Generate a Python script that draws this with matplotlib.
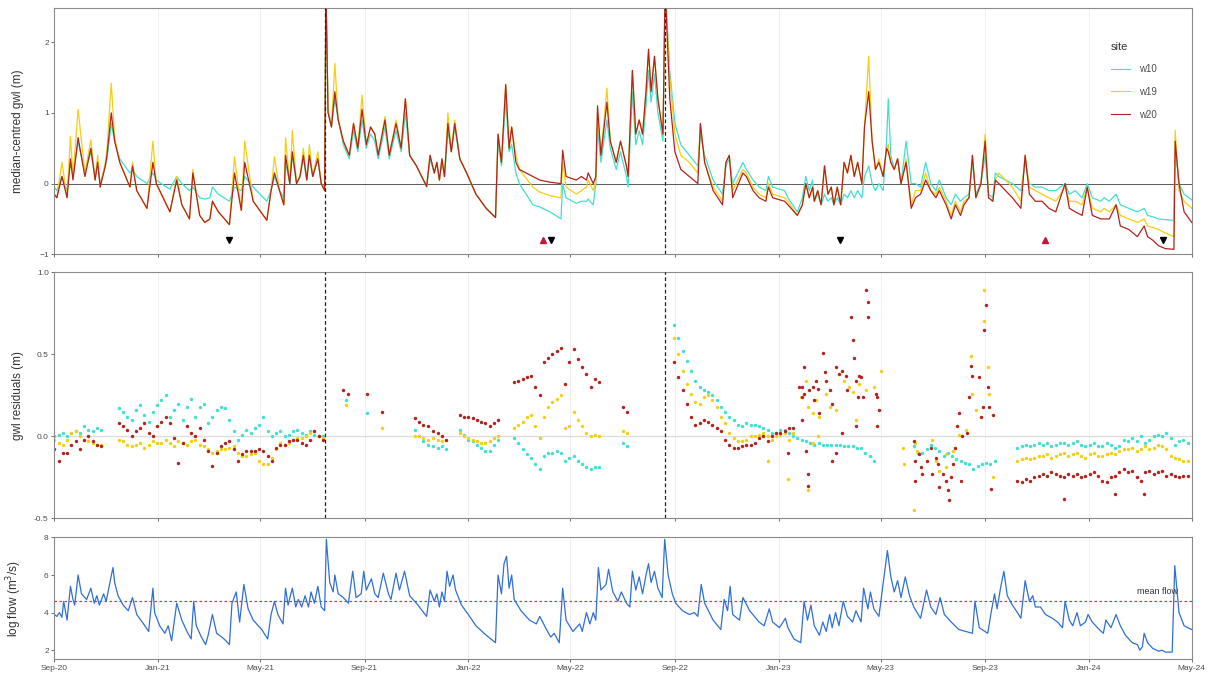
import numpy as np
import pandas as pd
import matplotlib
matplotlib.use("Agg")
import matplotlib.pyplot as plt
import matplotlib.dates as mdates
from matplotlib.lines import Line2D

plt.rcParams['font.family'] = ['Liberation Sans', 'DejaVu Sans']

# all times are days since 1 Sep 2020
START = pd.Timestamp("2020-09-01")
END = pd.Timestamp("2024-05-01")

# -------------------------------
# median-centred groundwater level (m), knots of the daily series
# -------------------------------
gwl_day = [
    0, 3, 9, 15, 19, 22, 28, 36, 43, 48,
    51, 54, 60, 62, 67, 71, 77, 89, 92, 97,
    109, 116, 120, 132, 136, 144, 150, 159, 163, 171,
    177, 183, 186, 193, 206, 212, 220, 224, 234, 250,
    255, 259, 265, 270, 272, 277, 280, 285, 289, 293,
    297, 300, 304, 310, 314, 318, 319.5, 322, 326, 330,
    334, 340, 347, 352, 357, 362, 367, 372, 377, 381,
    389, 394, 402, 408, 413, 418, 426, 438, 442, 447,
    450, 453, 456, 459, 463, 467, 471, 477, 485, 496,
    508, 519, 522, 526, 531, 535, 538, 543, 547, 563,
    571, 583, 596, 598, 602, 614, 620, 626, 628, 634,
    637, 639, 643, 650, 654, 661, 666, 673, 675, 680,
    684, 688, 692, 696, 699, 702, 706, 710, 716, 718.5,
    724, 730, 737, 747, 757, 760, 765, 775, 786, 790,
    794, 798, 810, 814, 822, 829, 837, 840, 845, 859,
    863, 874, 880, 884, 888, 892, 894, 898, 902, 906,
    910, 914, 917, 921, 925, 929, 933, 937, 941, 945,
    950, 953, 958, 962, 966, 970, 975, 979, 981, 984,
    988, 992, 996, 1002, 1008, 1013, 1019, 1025, 1031, 1037,
    1041, 1049, 1055, 1060, 1066, 1070, 1076, 1080, 1084, 1090,
    1095, 1099, 1104, 1107, 1111, 1119, 1127, 1137, 1142, 1147,
    1154, 1162, 1170, 1178, 1189, 1194, 1201, 1209, 1215, 1221,
    1231, 1235, 1241, 1249, 1254, 1264, 1274, 1282, 1286, 1292,
    1299, 1307, 1317, 1318.5, 1323, 1329, 1338,
]
gwl_w10 = [
    -0.05, -0.1, 0.1, -0.1, 0.3, 0.1, 0.6, 0.15, 0.45, 0.1,
    0.3, 0.0, 0.25, 0.35, 0.85, 0.6, 0.35, 0.15, 0.2, 0.1,
    0.0, 0.15, 0.05, -0.05, -0.08, 0.1, 0.0, -0.1, -0.05, -0.2,
    -0.22, -0.2, -0.05, -0.15, -0.25, -0.05, -0.1, 0.1, -0.05, -0.25,
    -0.1, 0.1, -0.1, -0.2, 0.3, 0.0, 0.4, 0.0, 0.1, 0.35,
    0.05, 0.4, 0.1, 0.35, 0.0, -0.05, 2.8, 1.05, 0.8, 1.2,
    0.9, 0.55, 0.35, 0.75, 0.45, 0.9, 0.5, 0.7, 0.6, 0.35,
    0.8, 0.35, 0.75, 0.45, 1.0, 0.4, 0.25, -0.05, 0.35, 0.15,
    0.3, 0.05, 0.3, 0.1, 0.75, 0.45, 0.8, 0.35, 0.15, -0.15,
    -0.35, -0.48, 0.6, 0.25, 1.2, 0.45, 0.55, 0.15, 0.0, -0.3,
    -0.33, -0.4, -0.5, 0.0, -0.2, -0.28, -0.25, -0.25, -0.22, -0.3,
    0.0, 0.8, 0.3, 0.9, 0.5, 0.2, 0.45, 0.1, -0.05, 1.3,
    0.55, 0.75, 0.55, 1.1, 1.6, 1.15, 1.55, 1.0, 0.6, 2.8,
    1.6, 0.85, 0.55, 0.4, 0.25, 0.7, 0.4, 0.05, -0.15, 0.25,
    0.35, 0.0, 0.3, 0.2, 0.05, -0.05, -0.1, 0.1, -0.05, -0.1,
    -0.2, -0.4, -0.2, 0.1, -0.1, 0.05, -0.25, -0.15, -0.3, -0.15,
    -0.25, -0.2, -0.3, -0.2, -0.3, -0.15, -0.2, -0.1, -0.2, -0.1,
    -0.2, 0.1, 0.25, 0.0, -0.1, 0.0, -0.1, 0.6, 1.2, 0.4,
    0.2, 0.35, 0.0, 0.6, 0.0, 0.0, -0.05, 0.3, 0.0, -0.1,
    0.05, -0.2, -0.3, -0.15, -0.25, -0.2, -0.15, 0.3, -0.15, 0.0,
    0.4, -0.15, -0.2, 0.15, 0.1, 0.05, 0.0, -0.1, 0.3, 0.0,
    -0.05, -0.05, -0.1, -0.1, 0.0, -0.15, -0.1, -0.2, 0.0, -0.2,
    -0.25, -0.2, -0.25, -0.15, -0.3, -0.35, -0.4, -0.35, -0.45, -0.47,
    -0.5, -0.51, -0.52, 0.5, 0.0, -0.15, -0.23,
]
gwl_w19 = [
    -0.15, -0.2, 0.3, -0.2, 0.67, 0.1, 1.05, 0.15, 0.62, 0.05,
    0.4, -0.05, 0.3, 0.5, 1.42, 0.65, 0.3, -0.05, 0.3, -0.1,
    -0.35, 0.6, 0.0, -0.3, -0.4, 0.1, -0.3, -0.5, 0.2, -0.45,
    -0.55, -0.5, -0.25, -0.4, -0.58, 0.38, -0.38, 0.6, -0.25, -0.52,
    -0.1, 0.38, -0.1, -0.3, 0.65, 0.0, 0.75, 0.0, 0.1, 0.5,
    0.05, 0.55, 0.1, 0.45, 0.0, -0.1, 2.8, 1.05, 0.8, 1.7,
    0.9, 0.6, 0.4, 0.85, 0.5, 1.25, 0.55, 0.8, 0.7, 0.4,
    0.95, 0.4, 0.9, 0.5, 1.2, 0.4, 0.25, -0.04, 0.4, 0.15,
    0.3, 0.05, 0.35, 0.1, 1.0, 0.45, 0.9, 0.35, 0.15, -0.15,
    -0.35, -0.48, 0.7, 0.3, 1.4, 0.5, 0.8, 0.4, 0.2, -0.05,
    -0.12, -0.17, -0.2, 0.3, -0.05, -0.15, -0.1, -0.05, 0.05, -0.1,
    0.05, 1.0, 0.4, 1.35, 0.6, 0.3, 0.6, 0.25, 0.1, 1.6,
    0.7, 0.9, 0.7, 1.3, 1.85, 1.3, 1.8, 1.2, 0.7, 2.8,
    1.5, 0.7, 0.4, 0.3, 0.15, 0.85, 0.3, -0.05, -0.25, 0.3,
    0.4, -0.1, 0.2, 0.15, -0.05, -0.15, -0.2, 0.0, -0.15, -0.2,
    -0.25, -0.45, -0.3, 0.0, -0.2, -0.05, -0.25, -0.1, -0.3, 0.25,
    -0.15, -0.05, -0.3, -0.05, -0.3, 0.3, 0.15, 0.4, 0.1, 0.3,
    0.0, 0.8, 1.8, 0.6, 0.2, 0.35, 0.1, 0.5, 0.55, 0.3,
    0.2, 0.35, 0.0, 0.35, -0.3, -0.1, -0.1, 0.15, -0.1, -0.15,
    -0.05, -0.25, -0.45, -0.25, -0.4, -0.25, -0.2, 0.4, -0.2, 0.0,
    0.7, -0.2, -0.25, 0.05, 0.15, 0.05, -0.05, -0.25, 0.4, -0.05,
    -0.1, -0.15, -0.2, -0.25, -0.05, -0.25, -0.25, -0.3, -0.05, -0.35,
    -0.4, -0.35, -0.4, -0.3, -0.45, -0.5, -0.55, -0.5, -0.6, -0.62,
    -0.65, -0.7, -0.75, 0.75, -0.1, -0.25, -0.35,
]
gwl_w20 = [
    -0.15, -0.2, 0.1, -0.2, 0.35, 0.05, 0.65, 0.1, 0.5, 0.05,
    0.3, -0.05, 0.25, 0.4, 1.0, 0.6, 0.3, -0.05, 0.25, -0.1,
    -0.35, 0.3, 0.0, -0.3, -0.4, 0.05, -0.3, -0.5, 0.15, -0.45,
    -0.55, -0.5, -0.25, -0.4, -0.58, 0.15, -0.38, 0.3, -0.25, -0.52,
    -0.1, 0.15, -0.1, -0.3, 0.4, 0.0, 0.45, 0.0, 0.1, 0.4,
    0.05, 0.4, 0.1, 0.35, 0.0, -0.1, 2.8, 1.0, 0.8, 1.3,
    0.9, 0.6, 0.4, 0.85, 0.5, 1.05, 0.55, 0.8, 0.7, 0.4,
    0.9, 0.4, 0.85, 0.5, 1.2, 0.4, 0.25, -0.04, 0.4, 0.15,
    0.3, 0.05, 0.35, 0.1, 0.85, 0.45, 0.85, 0.35, 0.15, -0.15,
    -0.35, -0.48, 0.7, 0.3, 1.4, 0.5, 0.8, 0.3, 0.2, 0.1,
    0.05, 0.02, 0.0, 0.47, 0.1, 0.05, 0.1, 0.05, 0.15, 0.0,
    0.1, 1.1, 0.4, 1.15, 0.6, 0.3, 0.6, 0.25, 0.1, 1.6,
    0.7, 0.9, 0.7, 1.3, 1.9, 1.3, 1.8, 1.2, 0.7, 2.8,
    1.2, 0.45, 0.2, 0.1, 0.0, 0.85, 0.3, -0.1, -0.3, 0.3,
    0.4, -0.2, 0.15, 0.1, -0.1, -0.2, -0.25, -0.05, -0.2, -0.25,
    -0.3, -0.45, -0.3, 0.0, -0.2, -0.05, -0.25, -0.1, -0.3, 0.25,
    -0.15, -0.05, -0.3, -0.05, -0.3, 0.3, 0.15, 0.4, 0.1, 0.3,
    0.0, 0.8, 1.3, 0.6, 0.2, 0.3, 0.1, 0.5, 0.45, 0.3,
    0.2, 0.35, 0.0, 0.3, -0.35, -0.2, -0.15, 0.05, -0.1, -0.2,
    -0.1, -0.3, -0.5, -0.3, -0.45, -0.3, -0.2, 0.4, -0.2, 0.0,
    0.6, -0.2, -0.25, 0.05, 0.0, -0.1, -0.2, -0.35, 0.4, -0.15,
    -0.25, -0.25, -0.35, -0.4, 0.0, -0.35, -0.4, -0.45, -0.05, -0.45,
    -0.5, -0.5, -0.5, -0.3, -0.6, -0.65, -0.75, -0.6, -0.75, -0.8,
    -0.88, -0.92, -0.93, 0.6, 0.0, -0.4, -0.55,
]

# event markers along the bottom of the gwl panel
event_down_day = [206, 584, 924, 1304]
event_up_day = [575, 1165]
event_level = -0.8

# -------------------------------
# gwl residuals (m): (first day, values every 5 days)
# -------------------------------
res_w10 = [
    (0, [0.0, 0.01, 0.02, 0.0, 0.02, 0.03, 0.02, 0.06, 0.04, 0.03, 0.05, 0.04]),
    (76, [0.17, 0.15, 0.12, 0.10, 0.16, 0.19, 0.13, 0.09, 0.15, 0.19,
          0.22, 0.25, 0.12, 0.16, 0.20, 0.10, 0.18, 0.23, 0.12, 0.18,
          0.20, 0.08, 0.12, 0.16, 0.18, 0.17, 0.10, 0.03, -0.02, 0.01,
          0.04, 0.02, 0.05, 0.07, 0.12, 0.03, 0.0, 0.02, 0.03, 0.0,
          0.01, 0.03, 0.04, 0.02, 0.01, 0.03, 0.01, 0.0, 0.0]),
    (343, [0.22]),
    (368, [0.14]),
    (424, [0.04, 0.0, -0.03, -0.05]),
    (446, [-0.06, -0.07, -0.06, -0.08]),
    (477, [0.04, 0.01, -0.02, -0.03, -0.05, -0.07, -0.09, -0.09, -0.05, -0.02]),
    (541, [-0.01, -0.04, -0.08, -0.11, -0.13, -0.17, -0.2, -0.12, -0.10, -0.10,
           -0.09, -0.10, -0.15, -0.13, -0.12, -0.15, -0.17, -0.19, -0.20, -0.19,
           -0.19]),
    (669, [-0.04, -0.06]),
    (729, [0.68, 0.6, 0.52, 0.46, 0.4, 0.34, 0.3, 0.28, 0.27, 0.25,
           0.22, 0.18, 0.15, 0.12, 0.1, 0.07, 0.06, 0.08, 0.07, 0.07,
           0.06, 0.05, 0.04, 0.02, 0.02, 0.04, 0.04, 0.02, 0.0, -0.01,
           -0.02, -0.03, -0.04, -0.05, -0.04, -0.05, -0.05, -0.05, -0.05, -0.05,
           -0.06, -0.06, -0.06, -0.07, -0.07, -0.1, -0.12, -0.15]),
    (1011, [-0.06, -0.1, -0.1, -0.08, -0.05, -0.07, -0.09, -0.12, -0.1, -0.12,
            -0.14, -0.15, -0.16, -0.17, -0.2, -0.18, -0.17, -0.16, -0.17, -0.15]),
    (1133, [-0.07, -0.06, -0.05, -0.06, -0.05, -0.04, -0.05, -0.04, -0.06, -0.05,
            -0.04, -0.04, -0.05, -0.04, -0.03, -0.05, -0.06, -0.05, -0.04, -0.06,
            -0.06, -0.04, -0.05, -0.07, -0.06, -0.02, -0.03, -0.01, -0.03, 0.0,
            -0.04, -0.02, 0.0, 0.01, 0.0, 0.02, -0.01, -0.05, -0.03, -0.02,
            -0.04]),
]
res_w19 = [
    (0, [-0.02, -0.04, -0.05, -0.02, 0.02, 0.03, 0.0, -0.02, -0.03, -0.04, -0.05, -0.05]),
    (76, [-0.02, -0.03, -0.05, -0.06, -0.05, -0.04, -0.07, -0.05, -0.03, -0.04,
          -0.04, -0.02, -0.04, -0.06, -0.03, -0.04, -0.05, -0.03, -0.02, -0.05,
          -0.06, -0.08, -0.10, -0.09, -0.08, -0.08, -0.07, -0.06, -0.10, -0.12,
          -0.12, -0.11, -0.10, -0.15, -0.17, -0.17, -0.13, -0.08, -0.04, -0.05,
          -0.04, -0.02, -0.01, -0.01, 0.0, 0.02, 0.03, 0.0, -0.01]),
    (343, [0.19]),
    (385, [0.05]),
    (424, [0.0, 0.0, -0.01, -0.02]),
    (446, [-0.01, -0.02, -0.03, -0.02]),
    (477, [0.02, 0.0, -0.01, -0.02, -0.03, -0.04, -0.04, -0.03, -0.01, 0.0]),
    (541, [0.05, 0.07, 0.09, 0.12, 0.13, 0.06, -0.01, 0.12, 0.18, 0.21,
           0.23, 0.25, 0.05, 0.06, 0.15, 0.10, 0.06, 0.02, 0.0, 0.01,
           0.0]),
    (669, [0.03, 0.02]),
    (729, [0.6, 0.5, 0.4, 0.32, 0.26, 0.21, 0.2, 0.24, 0.25, 0.22,
           0.18, 0.12, 0.08, 0.02, -0.01, -0.03, -0.03, -0.02, 0.0, 0.0,
           0.01, 0.02, 0.0, -0.02, 0.0, 0.01, 0.02, -0.02, 0.02]),
    (1133, [-0.15, -0.14, -0.13, -0.14, -0.13, -0.12, -0.12, -0.11, -0.13, -0.12,
            -0.11, -0.10, -0.12, -0.11, -0.10, -0.12, -0.13, -0.11, -0.10, -0.12,
            -0.12, -0.11, -0.10, -0.11, -0.09, -0.08, -0.08, -0.07, -0.09, -0.08,
            -0.06, -0.08, -0.07, -0.05, -0.06, -0.08, -0.12, -0.13, -0.14, -0.15,
            -0.15]),
]
res_w20 = [
    (0, [-0.08, -0.15, -0.1, -0.1, -0.05, -0.03, -0.08, -0.02, 0.0, -0.03, -0.05, -0.06]),
    (76, [0.08, 0.06, 0.04, 0.0, 0.03, 0.05, 0.08, 0.02, 0.0, 0.06,
          0.09, 0.12, 0.08, -0.01, -0.16, -0.04, 0.06, 0.02, 0.0, 0.05,
          -0.02, -0.09, -0.18, -0.1, -0.06, -0.04, -0.03, -0.08, -0.15, -0.11,
          -0.09, -0.09, -0.09, -0.08, -0.09, -0.12, -0.15, -0.07, -0.05, -0.05,
          -0.03, -0.02, -0.02, -0.04, -0.05, -0.02, 0.03, 0.0, -0.02]),
    (340, [0.28, 0.26]),
    (368, [0.26]),
    (385, [0.15]),
    (424, [0.11, 0.09, 0.07, 0.06]),
    (446, [0.03, 0.02, 0.0, -0.02]),
    (477, [0.13, 0.12, 0.12, 0.11, 0.10, 0.09, 0.08, 0.06, 0.08, 0.10]),
    (541, [0.33, 0.34, 0.35, 0.36, 0.37, 0.30, 0.25, 0.45, 0.48, 0.50,
           0.52, 0.54, 0.32, 0.45, 0.53, 0.47, 0.42, 0.38, 0.30, 0.35,
           0.33]),
    (669, [0.18, 0.15]),
    (729, [0.45, 0.36, 0.28, 0.2, 0.12, 0.07, 0.08, 0.1, 0.09, 0.07,
           0.05, 0.03, -0.02, -0.05, -0.07, -0.07, -0.06, -0.05, -0.05, -0.04,
           -0.01, 0.0, -0.03, 0.0, 0.02, 0.02, 0.03, 0.05, 0.05]),
    (1133, [-0.27, -0.28, -0.26, -0.27, -0.25, -0.24, -0.23, -0.24, -0.22, -0.23,
            -0.24, -0.25, -0.23, -0.24, -0.23, -0.25, -0.24, -0.23, -0.22, -0.24,
            -0.27, -0.28, -0.25, -0.24, -0.22, -0.20, -0.22, -0.21, -0.25, -0.27,
            -0.22, -0.21, -0.23, -0.22, -0.21, -0.24, -0.23, -0.24, -0.25, -0.24,
            -0.24]),
]

# scattered residuals during the 2023 wet spells
scat_w19_day = [839, 863, 878, 884, 886, 886, 892, 892, 896, 898,
                900, 908, 912, 919, 929, 935, 939, 943, 947, 955,
                964, 972, 998, 1000, 1011, 1013, 1015, 1033, 1037, 1041,
                1049, 1049, 1057, 1064, 1072, 1078, 1080, 1084, 1094, 1094,
                1098, 1100, 1104]
scat_w19 = [-0.15, -0.26, 0.24, 0.34, 0.18, -0.33, 0.14, -0.04, 0.22, 0.0,
            0.12, 0.26, 0.18, 0.16, 0.34, 0.30, 0.27, 0.10, 0.32, 0.28,
            0.30, 0.40, -0.07, -0.17, -0.45, -0.04, -0.09, -0.02, -0.15, -0.21,
            -0.19, -0.11, -0.09, 0.01, 0.04, 0.49, 0.26, 0.16, 0.70, 0.89,
            0.42, 0.26, -0.25]
scat_w20_day = [863, 876, 880, 880, 880, 882, 882, 884, 886, 886,
                888, 892, 894, 896, 898, 900, 904, 906, 908, 912,
                915, 915, 919, 919, 923, 927, 927, 931, 933, 937,
                939, 941, 943, 943, 945, 947, 949, 951, 955, 957,
                957, 966, 968, 968, 970, 1011, 1013, 1013, 1017, 1019,
                1021, 1027, 1031, 1033, 1037, 1039, 1041, 1045, 1049, 1051,
                1053, 1055, 1057, 1060, 1062, 1064, 1066, 1068, 1074, 1076,
                1078, 1080, 1088, 1090, 1092, 1094, 1096, 1098, 1100, 1102,
                1104, 1188, 1248, 1282]
scat_w20 = [-0.1, 0.30, 0.1, 0.30, 0.24, 0.42, 0.26, -0.09, -0.23, -0.3,
            0.28, 0.30, 0.22, 0.34, 0.29, 0.14, 0.51, 0.39, 0.34, 0.28,
            0.20, -0.15, 0.42, -0.1, 0.38, 0.40, 0.02, 0.37, 0.28, 0.73,
            0.59, 0.48, 0.34, 0.06, 0.24, 0.37, 0.36, 0.24, 0.89, 0.82,
            0.73, 0.26, 0.24, 0.06, 0.16, -0.03, -0.15, -0.27, -0.11, -0.19,
            -0.23, -0.15, -0.07, -0.23, -0.13, -0.17, -0.31, -0.23, -0.27, -0.33,
            -0.39, -0.25, -0.17, -0.07, 0.06, 0.14, -0.27, 0.0, 0.02, 0.24,
            0.43, 0.37, 0.36, 0.12, 0.18, 0.65, 0.80, 0.30, 0.18, -0.32,
            0.13, -0.38, -0.35, -0.35]

# -------------------------------
# log flow (m3/s)
# -------------------------------
flow_day = [
    0, 3, 6, 9, 11, 15, 19, 22, 24, 28,
    32, 38, 43, 47, 50, 53, 58, 61, 65, 69,
    71, 75, 81, 87, 92, 97, 105, 111, 116, 118,
    124, 130, 134, 138, 144, 150, 156, 161, 164, 167,
    173, 178, 181, 186, 191, 197, 202, 206, 209, 214,
    218, 223, 228, 234, 244, 251, 255, 259, 263, 269,
    272, 275, 280, 284, 287, 291, 295, 299, 302, 306,
    310, 314, 318, 320, 324, 328, 330, 334, 340, 346,
    351, 355, 361, 364, 367, 373, 377, 381, 387, 393,
    396, 402, 406, 412, 418, 426, 438, 442, 447, 450,
    453, 456, 459, 462, 465, 469, 472, 479, 487, 496,
    508, 519, 522, 526, 529, 532, 535, 538, 541, 549,
    559, 567, 571, 579, 584, 588, 594, 598, 602, 610,
    618, 621, 626, 630, 634, 637, 640, 643, 649, 652,
    657, 663, 667, 673, 677, 680, 684, 688, 692, 696,
    699, 702, 706, 710, 715, 718, 722, 727, 731, 739,
    747, 753, 757, 761, 765, 775, 784, 788, 792, 795,
    798, 806, 810, 818, 829, 835, 841, 845, 853, 860,
    863, 870, 878, 882, 886, 890, 894, 900, 904, 908,
    912, 915, 919, 923, 928, 933, 939, 943, 949, 952,
    957, 960, 964, 970, 974, 980, 984, 988, 992, 996,
    1001, 1006, 1011, 1019, 1026, 1031, 1037, 1042, 1047, 1055,
    1064, 1072, 1080, 1083, 1088, 1098, 1102, 1106, 1109, 1113,
    1117, 1121, 1127, 1133, 1137, 1142, 1147, 1151, 1154, 1160,
    1166, 1174, 1180, 1186, 1189, 1194, 1198, 1203, 1207, 1213,
    1216, 1221, 1227, 1234, 1237, 1243, 1249, 1254, 1260, 1268,
    1274, 1277, 1280, 1282, 1286, 1292, 1299, 1303, 1307, 1315,
    1318, 1323, 1329, 1338,
]
flow_logq = [
    3.9, 3.8, 4.0, 3.75, 4.6, 3.6, 5.4, 4.7, 4.4, 6.0,
    5.0, 4.7, 5.3, 4.5, 4.9, 4.4, 5.0, 4.6, 5.5, 6.4,
    5.6, 4.9, 4.4, 4.1, 4.8, 3.9, 3.4, 3.0, 5.3, 4.0,
    3.3, 2.9, 3.3, 2.5, 4.5, 3.6, 3.0, 2.6, 4.6, 3.3,
    2.7, 2.3, 2.8, 3.9, 2.9, 2.7, 2.5, 2.3, 4.5, 5.1,
    3.5, 5.5, 4.2, 3.6, 3.1, 2.6, 3.9, 4.6, 3.9, 3.4,
    5.3, 4.4, 5.3, 4.3, 4.7, 4.3, 4.9, 4.3, 5.1, 4.5,
    5.4, 4.3, 4.1, 7.9, 5.6, 5.1, 6.0, 5.0, 4.8, 4.5,
    6.2, 4.8, 5.0, 6.2, 5.2, 5.8, 5.0, 4.8, 6.1, 5.0,
    4.7, 6.1, 5.2, 6.2, 4.9, 4.5, 3.8, 5.2, 4.6, 5.0,
    4.3, 5.1, 4.6, 6.2, 5.4, 6.0, 5.2, 4.4, 3.9, 3.3,
    2.8, 2.4, 6.0, 5.0, 6.6, 7.0, 5.3, 6.0, 4.7, 4.1,
    3.6, 3.4, 3.8, 3.1, 2.7, 2.9, 2.4, 5.3, 3.6, 3.0,
    3.4, 3.0, 4.0, 3.4, 4.0, 3.6, 6.4, 5.2, 5.5, 6.3,
    5.1, 4.6, 5.1, 4.5, 4.3, 6.2, 5.2, 5.9, 5.0, 6.0,
    6.6, 5.6, 6.2, 5.3, 4.8, 7.9, 6.0, 5.0, 4.5, 4.1,
    3.9, 4.0, 3.8, 5.5, 4.5, 3.6, 3.1, 4.7, 4.1, 5.4,
    3.9, 3.6, 4.8, 4.1, 3.5, 3.3, 4.2, 3.5, 3.2, 3.7,
    3.2, 2.6, 2.4, 4.6, 3.6, 4.4, 3.3, 2.8, 3.5, 3.0,
    3.9, 3.2, 4.0, 3.3, 4.6, 3.8, 3.5, 4.1, 3.5, 5.3,
    4.2, 5.1, 4.2, 3.8, 5.2, 7.3, 5.9, 5.1, 5.7, 4.8,
    5.9, 4.9, 4.3, 3.7, 5.2, 4.3, 3.9, 4.8, 3.9, 3.5,
    3.1, 3.0, 2.9, 4.6, 3.2, 2.9, 4.0, 5.0, 4.2, 5.3,
    6.2, 4.9, 4.4, 4.0, 3.7, 5.7, 4.6, 4.9, 4.3, 4.3,
    3.9, 3.7, 3.5, 3.2, 4.6, 3.6, 3.3, 4.0, 3.3, 3.5,
    3.9, 3.5, 3.2, 2.9, 3.6, 3.2, 3.9, 3.3, 2.8, 2.4,
    2.3, 2.0, 2.2, 2.9, 2.4, 2.1, 1.95, 2.0, 1.9, 1.9,
    6.5, 4.0, 3.3, 3.1,
]
mean_logq = 4.64

# model periods split by the dashed lines
period_break_day = [319, 718]

site_names = ['w10', 'w19', 'w20']
site_colors = ['#40E0D0', '#F5CE12', '#B2221E']


def to_dates(days):
    return START + pd.to_timedelta(np.asarray(days, dtype=float), unit='D')


def seg_points(segments):
    days, vals = [], []
    for first, values in segments:
        days.extend(first + 5 * np.arange(len(values)))
        vals.extend(values)
    return to_dates(days), np.array(vals)


fig = plt.figure(figsize=(12.12, 6.77), dpi=100)
ax_top = fig.add_axes([0.0448, 0.6244, 0.9385, 0.3634])
ax_mid = fig.add_axes([0.0448, 0.2344, 0.9385, 0.3634])
ax_bot = fig.add_axes([0.0448, 0.0262, 0.9385, 0.1800])
axes = [ax_top, ax_mid, ax_bot]

tick_dates = pd.date_range('2020-09-01', '2024-05-01', freq='4MS')

for ax in axes:
    ax.set_xlim(START, END)
    for d in tick_dates:
        ax.axvline(d, color='#ececec', lw=0.6, zorder=0)
    for s in ax.spines.values():
        s.set_color('#8a8a8a')
        s.set_linewidth(0.8)
    ax.set_xticks(tick_dates)
    ax.tick_params(axis='both', length=2.5, width=0.6, color='#555555',
                   labelsize=6, labelcolor='#4d4d4d', pad=1.5)

# --- top: groundwater levels
ax_top.axhline(0, color='#5a5a5a', lw=0.7, zorder=1)
gwl_dates = to_dates(gwl_day)
for name, vals, col in zip(site_names, [gwl_w10, gwl_w19, gwl_w20], site_colors):
    ax_top.plot(gwl_dates, vals, color=col, lw=0.9, zorder=2)
ax_top.plot(to_dates(event_down_day), [event_level] * len(event_down_day),
            linestyle='none', marker='v', ms=5, color='black', zorder=4)
ax_top.plot(to_dates(event_up_day), [event_level] * len(event_up_day),
            linestyle='none', marker='^', ms=5, color='#C8143C', zorder=4)
ax_top.set_ylim(-1, 2.48)
ax_top.set_yticks([-1, 0, 1, 2])
ax_top.set_ylabel('median-centred gwl (m)', fontsize=8.5, color='#333333')

handles = [Line2D([0], [0], color=c, lw=0.8) for c in site_colors]
leg = ax_top.legend(handles, site_names, title='site', loc='upper left',
                    bbox_to_anchor=(0.921, 0.9), frameon=False, fontsize=7,
                    title_fontsize=8, labelspacing=1.3, handlelength=2.0,
                    handletextpad=0.9)
leg._legend_box.align = 'left'
for t in leg.get_texts():
    t.set_color('#4d4d4d')
leg.get_title().set_color('#333333')

# --- middle: residuals
ax_mid.axhline(0, color='#dedede', lw=1.0, zorder=1)
for segs, col in zip([res_w10, res_w19, res_w20], site_colors):
    d, v = seg_points(segs)
    ax_mid.scatter(d, v, s=6, color=col, linewidths=0, zorder=2)
ax_mid.scatter(to_dates(scat_w19_day), scat_w19, s=6, color=site_colors[1],
               linewidths=0, zorder=2)
ax_mid.scatter(to_dates(scat_w20_day), scat_w20, s=6, color=site_colors[2],
               linewidths=0, zorder=3)
ax_mid.set_ylim(-0.5, 1.0)
ax_mid.set_yticks([-0.5, 0.0, 0.5, 1.0])
ax_mid.set_yticklabels(['-0.5', '0.0', '0.5', '1.0'])
ax_mid.set_ylabel('gwl residuals (m)', fontsize=8.5, color='#333333')

for ax in [ax_top, ax_mid]:
    for b in to_dates(period_break_day):
        ax.axvline(b, color='#222222', lw=0.9, ls=(0, (3, 2)), zorder=3)
    ax.tick_params(axis='x', labelbottom=False)

# --- bottom: flow
ax_bot.axhline(mean_logq, color='#E0304A', lw=0.9, ls=(0, (2, 2)), zorder=1)
ax_bot.plot(to_dates(flow_day), flow_logq, color='#2F6FD6', lw=0.9, zorder=2)
ax_bot.text(to_dates([1322])[0], mean_logq + 0.25, 'mean flow', fontsize=6.5,
            color='#333333', ha='right', va='bottom')
ax_bot.set_ylim(1.52, 8.0)
ax_bot.set_yticks([2, 4, 6, 8])
ax_bot.set_ylabel('log flow (m$^3$/s)', fontsize=8.5, color='#333333')
ax_bot.xaxis.set_major_formatter(mdates.DateFormatter('%b-%y'))

for ax in axes:
    ax.yaxis.set_label_coords(-0.027, 0.5)

fig.savefig('out.png', dpi=100)
